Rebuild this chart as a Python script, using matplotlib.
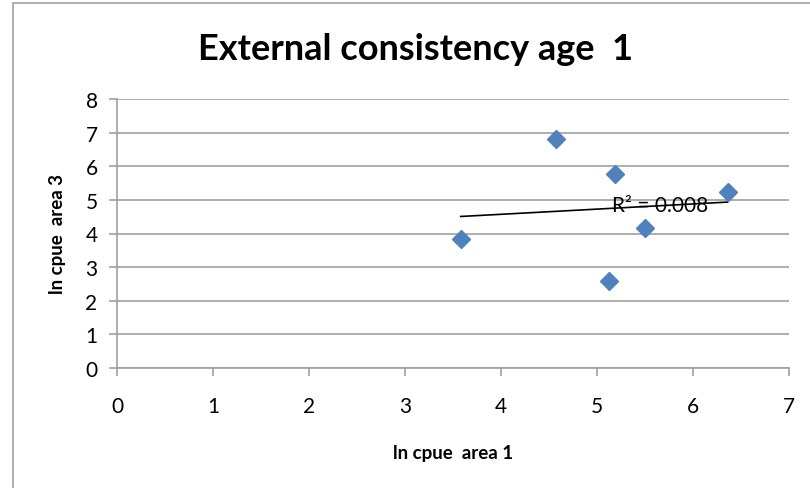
import numpy as np
import matplotlib.pyplot as plt
from matplotlib.patches import Rectangle

# data
ln_cpue_area1 = [3.58, 4.57, 5.19, 5.12, 5.50, 6.36]
ln_cpue_area3 = [3.85, 6.82, 5.78, 2.58, 4.15, 5.22]
x_ticks = [0, 1, 2, 3, 4, 5, 6, 7]
y_ticks = [0, 1, 2, 3, 4, 5, 6, 7, 8]
r2_label = 'R² = 0.008'

plt.rcParams['font.family'] = ['Lato', 'DejaVu Sans']

fig = plt.figure(figsize=(8.1, 4.89), dpi=100)
fig.patches.append(Rectangle((13 / 810, -0.1), 1.0, 1.1 - 4 / 489,
                             transform=fig.transFigure, fill=False,
                             edgecolor='#a0a0a0', linewidth=1.2))
ax = fig.add_axes([117 / 810, 1 - 369 / 489, 672 / 810, 269 / 489])

x = np.array(ln_cpue_area1)
y = np.array(ln_cpue_area3)

# linear trendline
slope, intercept = np.polyfit(x, y, 1)
xs = np.array([x.min(), x.max()])
ax.plot(xs, slope * xs + intercept, color='black', linewidth=1.2, zorder=2)

ax.plot(x, y, 'D', color='#4F81BD', markersize=9.5, zorder=3)
ax.text(5.66, 4.86, r2_label, fontsize=15, ha='center', va='center', zorder=4)

ax.set_xlim(0, 7)
ax.set_ylim(0, 8)
ax.set_xticks(x_ticks)
ax.set_yticks(y_ticks)
ax.grid(axis='y', color='#a0a0a0', linewidth=1.2)
ax.set_axisbelow(True)
for s in ['top', 'right']:
    ax.spines[s].set_visible(False)
for s in ['left', 'bottom']:
    ax.spines[s].set_color('#a0a0a0')
    ax.spines[s].set_linewidth(1.2)
ax.tick_params(colors='#a0a0a0', labelcolor='black', labelsize=15, length=6, width=1.2)
ax.tick_params(axis='x', pad=14)
ax.tick_params(axis='y', pad=8)

fig.text(415 / 810, 1 - 50 / 489, 'External consistency age  1', fontsize=26,
         fontweight='bold', ha='center', va='center')
ax.set_xlabel('ln cpue  area 1', fontsize=13.5, fontweight='bold', labelpad=20)
ax.set_ylabel('ln cpue  area 3', fontsize=13.5, fontweight='bold', labelpad=14)

fig.savefig('out.png', dpi=100)
